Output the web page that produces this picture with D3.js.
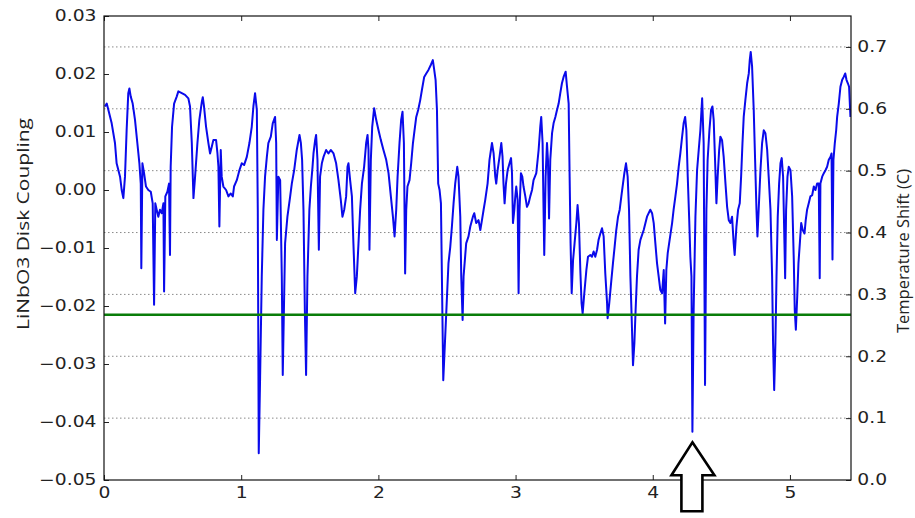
<!DOCTYPE html>
<html>
<head>
<meta charset="utf-8">
<script src="https://cdn.jsdelivr.net/npm/d3@7"></script>
<style>
  body { margin: 0; background: #fff; }
  svg { display: block; }
</style>
</head>
<body>
<div id="chart"></div>
<script>
// time axis (x) and LiNbO3 disk coupling (left y)
const times = [
  0.007,0.020,0.032,0.056,0.080,0.092,0.117,0.129,0.141,0.153,
  0.165,0.177,0.185,0.195,0.209,0.226,0.243,0.258,0.268,0.272,
  0.280,0.292,0.306,0.323,0.341,0.355,0.365,0.374,0.384,0.396,
  0.408,0.421,0.433,0.438,0.447,0.462,0.474,0.481,0.486,0.496,
  0.511,0.530,0.542,0.567,0.591,0.615,0.627,0.640,0.652,0.664,
  0.681,0.695,0.713,0.720,0.729,0.744,0.761,0.773,0.786,0.797,
  0.817,0.827,0.834,0.841,0.851,0.858,0.870,0.890,0.907,0.924,
  0.939,0.948,0.968,0.987,1.004,1.021,1.041,1.060,1.077,1.089,
  1.101,1.114,1.121,1.128,1.138,1.150,1.162,1.174,1.187,1.198,
  1.216,1.230,1.247,1.255,1.260,1.271,1.284,1.296,1.303,1.320,
  1.337,1.357,1.369,1.386,1.405,1.425,1.435,1.444,1.454,1.464,
  1.473,1.483,1.497,1.508,1.520,1.527,1.539,1.546,1.556,1.566,
  1.575,1.588,1.600,1.619,1.636,1.653,1.673,1.692,1.709,1.726,
  1.738,1.751,1.765,1.775,1.782,1.794,1.807,1.818,1.831,1.843,
  1.855,1.867,1.880,1.896,1.911,1.921,1.928,1.935,1.945,1.955,
  1.969,1.984,2.001,2.018,2.037,2.057,2.074,2.091,2.106,2.118,
  2.130,2.140,2.154,2.166,2.176,2.186,2.195,2.203,2.212,2.227,
  2.239,2.252,2.261,2.276,2.290,2.305,2.317,2.334,2.349,2.365,
  2.383,2.397,2.407,2.417,2.427,2.436,2.446,2.456,2.463,2.473,
  2.485,2.500,2.511,2.524,2.536,2.548,2.560,2.575,2.584,2.597,
  2.604,2.614,2.621,2.640,2.657,2.670,2.689,2.699,2.713,2.730,
  2.743,2.755,2.767,2.779,2.796,2.810,2.828,2.840,2.852,2.859,
  2.869,2.883,2.896,2.905,2.912,2.920,2.930,2.942,2.956,2.967,
  2.974,2.981,2.991,2.998,3.005,3.015,3.022,3.029,3.039,3.049,
  3.058,3.071,3.083,3.095,3.107,3.120,3.131,3.151,3.168,3.180,
  3.187,3.197,3.204,3.209,3.219,3.229,3.236,3.244,3.253,3.266,
  3.277,3.290,3.302,3.314,3.326,3.338,3.350,3.365,3.375,3.387,
  3.394,3.401,3.409,3.419,3.430,3.443,3.452,3.462,3.472,3.481,
  3.489,3.501,3.516,3.528,3.545,3.557,3.569,3.581,3.594,3.605,
  3.618,3.630,3.642,3.654,3.667,3.671,3.683,3.696,3.710,3.722,
  3.734,3.747,3.759,3.771,3.783,3.793,3.805,3.817,3.827,3.837,
  3.846,3.856,3.866,3.875,3.885,3.897,3.910,3.934,3.958,3.982,
  3.995,4.007,4.019,4.031,4.043,4.055,4.068,4.080,4.090,4.099,
  4.109,4.123,4.141,4.152,4.165,4.177,4.189,4.201,4.214,4.225,
  4.236,4.245,4.255,4.265,4.274,4.282,4.289,4.298,4.311,4.323,
  4.335,4.347,4.360,4.371,4.381,4.391,4.400,4.413,4.425,4.435,
  4.444,4.454,4.464,4.473,4.484,4.493,4.505,4.517,4.530,4.542,
  4.554,4.566,4.578,4.590,4.597,4.610,4.622,4.634,4.644,4.654,
  4.663,4.675,4.688,4.700,4.707,4.714,4.724,4.736,4.746,4.756,
  4.763,4.772,4.785,4.797,4.809,4.821,4.834,4.845,4.858,4.870,
  4.877,4.885,4.894,4.902,4.911,4.921,4.931,4.940,4.950,4.960,
  4.965,4.972,4.982,4.991,5.004,5.016,5.028,5.035,5.043,5.053,
  5.062,5.072,5.082,5.093,5.106,5.115,5.125,5.137,5.149,5.162,
  5.174,5.186,5.198,5.210,5.217,5.222,5.235,5.247,5.259,5.271,
  5.283,5.295,5.303,5.310,5.317,5.327,5.337,5.344,5.356,5.368,
  5.381,5.392,5.403,5.412,5.422,5.431,5.441
];
const coupling = [
  0.0144,0.0149,0.0138,0.0115,0.0081,0.0046,0.0023,0.0000,-0.0014,0.0023,
  0.0103,0.0167,0.0175,0.0161,0.0149,0.0121,0.0081,0.0046,0.0011,-0.0135,
  0.0046,0.0029,0.0006,0.0000,-0.0003,-0.0023,-0.0198,-0.0023,-0.0034,-0.0046,
  -0.0034,-0.0040,-0.0023,-0.0175,-0.0011,-0.0003,0.0011,-0.0112,0.0040,0.0109,
  0.0149,0.0161,0.0170,0.0167,0.0164,0.0158,0.0144,0.0081,-0.0014,0.0023,
  0.0081,0.0121,0.0152,0.0160,0.0144,0.0109,0.0081,0.0063,0.0075,0.0086,
  0.0086,0.0063,0.0040,-0.0063,0.0069,0.0023,0.0006,0.0000,-0.0011,-0.0006,
  -0.0011,0.0006,0.0017,0.0034,0.0046,0.0043,0.0057,0.0081,0.0109,0.0144,
  0.0167,0.0138,-0.0034,-0.0454,-0.0322,-0.0149,-0.0034,0.0023,0.0057,0.0081,
  0.0092,0.0115,0.0126,0.0081,-0.0086,0.0023,0.0017,-0.0149,-0.0319,-0.0092,
  -0.0046,-0.0011,0.0011,0.0034,0.0069,0.0095,0.0081,0.0052,-0.0034,-0.0207,
  -0.0319,-0.0149,-0.0034,0.0006,0.0040,0.0063,0.0086,0.0095,0.0052,-0.0103,
  0.0023,0.0046,0.0057,0.0069,0.0063,0.0069,0.0063,0.0046,0.0017,-0.0017,
  -0.0046,-0.0034,-0.0011,0.0040,0.0046,0.0017,-0.0011,-0.0092,-0.0178,-0.0149,
  -0.0092,-0.0034,0.0011,0.0040,0.0081,0.0095,0.0069,-0.0103,0.0052,0.0109,
  0.0141,0.0121,0.0103,0.0086,0.0069,0.0052,0.0029,-0.0011,-0.0046,-0.0080,
  -0.0034,0.0023,0.0081,0.0121,0.0135,0.0081,-0.0144,-0.0034,0.0006,0.0017,
  0.0046,0.0081,0.0098,0.0126,0.0138,0.0155,0.0172,0.0195,0.0201,0.0207,
  0.0216,0.0224,0.0207,0.0190,0.0138,0.0011,0.0000,-0.0023,-0.0149,-0.0328,
  -0.0264,-0.0184,-0.0126,-0.0098,-0.0063,-0.0023,0.0011,0.0040,0.0023,-0.0046,
  -0.0149,-0.0224,-0.0149,-0.0092,-0.0080,-0.0063,-0.0046,-0.0040,-0.0057,-0.0052,
  -0.0069,-0.0052,-0.0034,-0.0017,0.0011,0.0052,0.0081,0.0063,0.0023,0.0011,
  0.0034,0.0057,0.0081,0.0057,0.0011,-0.0023,0.0011,0.0034,0.0046,0.0055,
  0.0029,-0.0057,-0.0034,-0.0011,0.0006,-0.0017,-0.0178,-0.0034,0.0029,0.0023,
  0.0006,-0.0011,-0.0029,-0.0023,-0.0011,0.0000,0.0017,0.0029,0.0069,0.0109,
  0.0126,0.0081,-0.0034,-0.0112,0.0023,0.0081,0.0052,-0.0049,0.0052,0.0098,
  0.0115,0.0126,0.0138,0.0149,0.0167,0.0184,0.0195,0.0204,0.0178,0.0149,
  0.0023,-0.0092,-0.0178,-0.0121,-0.0092,-0.0057,-0.0026,-0.0057,-0.0138,-0.0195,
  -0.0213,-0.0178,-0.0138,-0.0115,-0.0112,-0.0115,-0.0106,-0.0115,-0.0103,-0.0086,
  -0.0075,-0.0066,-0.0080,-0.0144,-0.0195,-0.0221,-0.0195,-0.0161,-0.0126,-0.0098,
  -0.0069,-0.0046,-0.0034,-0.0011,0.0011,0.0029,0.0046,0.0023,-0.0034,-0.0149,
  -0.0218,-0.0302,-0.0264,-0.0207,-0.0149,-0.0103,-0.0086,-0.0069,-0.0046,-0.0034,
  -0.0040,-0.0057,-0.0092,-0.0126,-0.0149,-0.0172,-0.0178,-0.0138,-0.0230,-0.0138,
  -0.0109,-0.0086,-0.0057,-0.0034,-0.0011,0.0011,0.0040,0.0063,0.0092,0.0115,
  0.0126,0.0103,0.0023,-0.0046,-0.0115,-0.0149,-0.0417,-0.0207,-0.0046,0.0034,
  0.0069,0.0103,0.0158,0.0081,-0.0336,-0.0034,0.0052,0.0103,0.0138,0.0144,
  0.0121,0.0052,-0.0023,0.0023,0.0069,0.0092,0.0086,0.0057,0.0011,-0.0029,
  -0.0052,-0.0057,-0.0046,-0.0092,-0.0112,-0.0063,-0.0034,-0.0023,0.0023,0.0081,
  0.0126,0.0155,0.0184,0.0201,0.0224,0.0238,0.0213,0.0138,0.0052,-0.0034,
  -0.0080,-0.0034,0.0034,0.0081,0.0103,0.0098,0.0069,0.0023,-0.0034,-0.0149,
  -0.0264,-0.0345,-0.0264,-0.0149,-0.0046,0.0011,0.0046,0.0055,0.0023,-0.0092,
  -0.0152,-0.0034,0.0023,0.0040,0.0034,-0.0011,-0.0121,-0.0207,-0.0241,-0.0184,
  -0.0126,-0.0092,-0.0057,-0.0069,-0.0075,-0.0052,-0.0034,-0.0023,-0.0011,-0.0009,
  0.0006,0.0000,0.0011,0.0011,-0.0152,0.0011,0.0023,0.0029,0.0034,0.0040,
  0.0052,0.0057,0.0063,-0.0120,0.0052,0.0081,0.0103,0.0126,0.0149,0.0178,
  0.0190,0.0195,0.0201,0.0190,0.0184,0.0178,0.0126
];

const timeDomain = [0, 5.445];
const couplingDomain = [-0.05, 0.03];
const tempDomain = [0, 0.75];
const timeTicks = [0, 1, 2, 3, 4, 5];
const couplingTicks = [-0.05, -0.04, -0.03, -0.02, -0.01, 0.0, 0.01, 0.02, 0.03];
const tempTicks = [0.0, 0.1, 0.2, 0.3, 0.4, 0.5, 0.6, 0.7];
const thresholdCoupling = -0.0215;
const arrowTime = 4.289;
const arrowTipCoupling = -0.0435;
const leftLabel = "LiNbO3 Disk Coupling";
const rightLabel = "Temperature Shift (C)";

(function () {
  const width = 915;
  const height = 518;
  const margin = { top: 16, right: 64, bottom: 38, left: 104 };
  const plotWidth = width - margin.left - margin.right;
  const plotHeight = height - margin.top - margin.bottom;
  const TICK_FONT = "DejaVu Sans, sans-serif";
  const STRETCH = "scale(1.25,1)";

  const svg = d3.select("#chart").append("svg").attr("width", width).attr("height", height);

  const g = svg.append("g").attr("transform", `translate(${margin.left}, ${margin.top})`);

  const xScale = d3.scaleLinear().domain(timeDomain).range([0, plotWidth]);
  const yLeft = d3.scaleLinear().domain(couplingDomain).range([plotHeight, 0]);
  const yRight = d3.scaleLinear().domain(tempDomain).range([plotHeight, 0]);

  svg.append("defs").append("clipPath").attr("id", "plotClip")
    .append("rect").attr("width", plotWidth).attr("height", plotHeight);

  // dotted grid follows the right-hand axis ticks
  g.selectAll(".grid")
    .data(tempTicks.filter(d => d > 0))
    .join("line")
    .attr("class", "grid")
    .attr("x1", 0)
    .attr("x2", plotWidth)
    .attr("y1", d => yRight(d))
    .attr("y2", d => yRight(d))
    .attr("stroke", "#8a8a8a")
    .attr("stroke-width", 1)
    .attr("stroke-dasharray", "1.5,2.5");

  const points = times.map((t, i) => ({ t, c: coupling[i] }));

  const line = d3.line().x(d => xScale(d.t)).y(d => yLeft(d.c));

  g.append("path")
    .datum(points)
    .attr("clip-path", "url(#plotClip)")
    .attr("d", line)
    .attr("fill", "none")
    .attr("stroke", "#0a0aeb")
    .attr("stroke-width", 2)
    .attr("stroke-linejoin", "round");

  g.append("line")
    .attr("x1", 0)
    .attr("x2", plotWidth)
    .attr("y1", yLeft(thresholdCoupling))
    .attr("y2", yLeft(thresholdCoupling))
    .attr("stroke", "#0a7d0a")
    .attr("stroke-width", 2.5);

  const styleAxis = sel => {
    sel.select(".domain").remove();
    sel.selectAll("line").attr("stroke", "#222").attr("stroke-width", 1);
    sel.selectAll("text")
      .attr("font-family", TICK_FONT)
      .attr("font-size", 15)
      .attr("fill", "#222")
      .attr("transform", STRETCH);
  };

  g.append("g")
    .call(d3.axisLeft(yLeft).tickValues(couplingTicks).tickFormat(d3.format(".2f")).tickSize(-5).tickPadding(6))
    .call(styleAxis);

  g.append("g")
    .attr("transform", `translate(${plotWidth}, 0)`)
    .call(d3.axisRight(yRight).tickValues(tempTicks).tickFormat(d3.format(".1f")).tickSize(-5).tickPadding(5))
    .call(styleAxis);

  g.append("g")
    .attr("transform", `translate(0, ${plotHeight})`)
    .call(d3.axisBottom(xScale).tickValues(timeTicks).tickFormat(d3.format("d")).tickSize(-5).tickPadding(7))
    .call(styleAxis);

  g.append("g")
    .call(d3.axisTop(xScale).tickValues(timeTicks).tickFormat("").tickSize(-5))
    .call(styleAxis);

  g.append("rect")
    .attr("width", plotWidth)
    .attr("height", plotHeight)
    .attr("fill", "none")
    .attr("stroke", "#111")
    .attr("stroke-width", 1.2);

  svg.append("text")
    .attr("transform", `translate(23, 224) scale(1.1,1) rotate(-90)`)
    .attr("text-anchor", "middle")
    .attr("dy", "0.35em")
    .attr("font-family", "Open Sans, sans-serif")
    .attr("font-size", 15)
    .attr("fill", "#222")
    .attr("textLength", 212)
    .attr("lengthAdjust", "spacingAndGlyphs")
    .text(leftLabel);

  svg.append("text")
    .attr("transform", `translate(903, 251) scale(1.1,1) rotate(-90)`)
    .attr("text-anchor", "middle")
    .attr("dy", "0.35em")
    .attr("font-family", "Open Sans, sans-serif")
    .attr("font-size", 15)
    .attr("fill", "#222")
    .attr("textLength", 164)
    .attr("lengthAdjust", "spacingAndGlyphs")
    .text(rightLabel);

  // hollow arrow pointing up at the deepest dip
  const arrowShape = [[0, 0], [22, 33], [10, 33], [10, 69], [-11, 69], [-11, 33], [-21, 33]];
  g.append("path")
    .attr("transform", `translate(${xScale(arrowTime)}, ${yLeft(arrowTipCoupling)})`)
    .attr("d", d3.line()(arrowShape) + "Z")
    .attr("fill", "#fff")
    .attr("stroke", "#000")
    .attr("stroke-width", 2.6)
    .attr("stroke-linejoin", "miter");
})();
</script>
</body>
</html>
